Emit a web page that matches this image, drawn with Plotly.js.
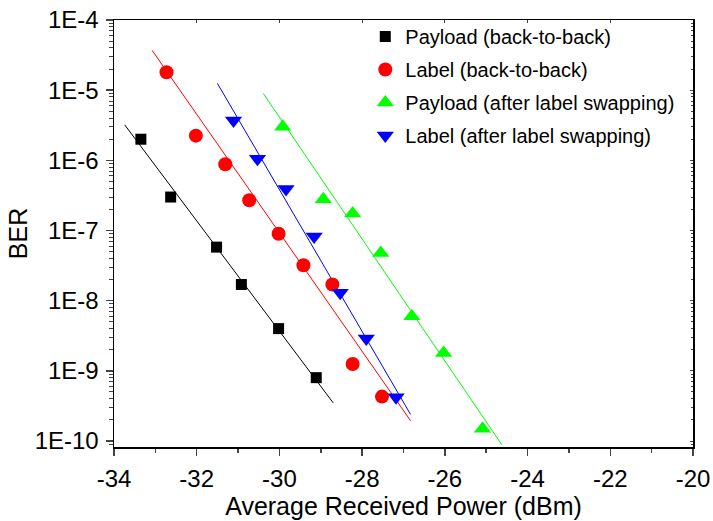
<!DOCTYPE html>
<html>
<head>
<meta charset="utf-8">
<script src="https://cdn.plot.ly/plotly-3.0.1.min.js"></script>
<style>html,body{margin:0;padding:0;background:#fff;}#chart{width:713px;height:521px;}</style>
</head>
<body>
<div id="chart"></div>
<script>
const payloadB2B_x = [-33.35, -32.63, -31.52, -30.92, -30.02, -29.11];
const payloadB2B_y = [2.0e-6, 3.0e-7, 5.8e-8, 1.7e-8, 4.0e-9, 8.0e-10];
const labelB2B_x = [-32.73, -32.02, -31.31, -30.73, -30.02, -29.42, -28.72, -28.23, -27.52];
const labelB2B_y = [1.8e-5, 2.25e-6, 8.8e-7, 2.7e-7, 9.0e-8, 3.2e-8, 1.7e-8, 1.25e-9, 4.3e-10];
const payloadLS_x = [-29.92, -28.94, -28.23, -27.55, -26.80, -26.03, -25.09];
const payloadLS_y = [3.0e-6, 2.8e-7, 1.75e-7, 4.8e-8, 6.0e-9, 1.8e-9, 1.5e-10];
const labelLS_x = [-31.11, -30.53, -29.84, -29.16, -28.53, -27.90, -27.18];
const labelLS_y = [3.7e-6, 1.05e-6, 3.9e-7, 8.2e-8, 1.3e-8, 2.9e-9, 4.2e-10];

// Linear-fit line endpoints
const fitPayloadB2B_x = [-33.74, -28.70];
const fitPayloadB2B_y = [3.2e-6, 3.5e-10];
const fitLabelB2B_x = [-33.08, -26.83];
const fitLabelB2B_y = [3.7e-5, 1.95e-10];
const fitPayloadLS_x = [-30.39, -24.62];
const fitPayloadLS_y = [9.0e-6, 8.8e-11];
const fitLabelLS_x = [-31.50, -26.83];
const fitLabelLS_y = [1.25e-5, 2.4e-10];

const seriesNames = ['Payload (back-to-back)', 'Label (back-to-back)', 'Payload (after label swapping)', 'Label (after label swapping)'];
const yTickVals = [1e-10, 1e-9, 1e-8, 1e-7, 1e-6, 1e-5, 1e-4];
const yTickText = ['1E-10', '1E-9', '1E-8', '1E-7', '1E-6', '1E-5', '1E-4'];
const xTickVals = [-34, -32, -30, -28, -26, -24, -22, -20];
const xTickText = ['-34', '-32', '-30', '-28', '-26', '-24', '-22', '-20'];

const minorY = [];
for (let e = -11; e <= -4; e++) for (let m = 2; m <= 9; m++) minorY.push(m * Math.pow(10, e));

function fit(x, y, c) {
  return {x: x, y: y, mode: 'lines', line: {color: c, width: 1}, showlegend: false, hoverinfo: 'skip'};
}
function pts(x, y, name, c, sym, sz, g) {
  return {x: x, y: y, mode: 'markers', name: name, legendgroup: g,
    marker: {color: c, symbol: sym, size: sz, line: {width: 0}}};
}

const traces = [
  fit(fitPayloadB2B_x, fitPayloadB2B_y, '#000000'),
  fit(fitLabelB2B_x, fitLabelB2B_y, '#ff0000'),
  fit(fitPayloadLS_x, fitPayloadLS_y, '#00ff00'),
  fit(fitLabelLS_x, fitLabelLS_y, '#0000ff'),
  pts(payloadB2B_x, payloadB2B_y, seriesNames[0], '#000000', 'square', 11, 'a'),
  pts(labelB2B_x, labelB2B_y, seriesNames[1], '#ff0000', 'circle', 14, 'b'),
  pts(payloadLS_x, payloadLS_y, seriesNames[2], '#00ff00', 'triangle-up', 15, 'c'),
  pts(labelLS_x, labelLS_y, seriesNames[3], '#0000ff', 'triangle-down', 15, 'd'),
  {x: [], y: [], xaxis: 'x2', yaxis: 'y2', showlegend: false, mode: 'markers'}
];

const font = 'Liberation Sans, Arial, sans-serif';
const layout = {
  width: 713, height: 521,
  margin: {l: 114, r: 20, t: 20, b: 74},
  paper_bgcolor: '#ffffff', plot_bgcolor: '#ffffff',
  font: {family: font, color: '#000000'},
  showlegend: true,
  legend: {x: 0.434, y: 1.007, xanchor: 'left', yanchor: 'top', bgcolor: 'rgba(0,0,0,0)',
    font: {size: 20, family: font}, traceorder: 'grouped', tracegroupgap: 4},
  xaxis: {range: [-34, -20], tickvals: xTickVals, ticktext: xTickText, ticks: 'outside', ticklen: 7, tickwidth: 1.5,
    showline: true, linewidth: 1.5, linecolor: '#000', showgrid: false, zeroline: false,
    tickfont: {size: 24, family: font}, ticklabelstandoff: 3, ticklabeloverflow: 'allow',
    minor: {dtick: 1, ticks: 'outside', ticklen: 4, tickwidth: 1.5, showgrid: false},
    title: {text: 'Average Received Power (dBm)', font: {size: 25, family: font}, standoff: 5}},
  yaxis: {type: 'log', range: [-10.085, -4], tickvals: yTickVals, ticktext: yTickText,
    ticks: 'outside', ticklen: 7, tickwidth: 1.5, showline: true, linewidth: 1.5, linecolor: '#000',
    showgrid: false, zeroline: false, tickfont: {size: 24, family: font}, ticklabelstandoff: 2,
    minor: {tickvals: minorY, ticks: 'outside', ticklen: 4, tickwidth: 1, showgrid: false},
    title: {text: 'BER', font: {size: 25, family: font}, standoff: 0}},
  xaxis2: {overlaying: 'x', side: 'top', anchor: 'y2', range: [-34, -20], tickvals: xTickVals,
    ticks: 'inside', ticklen: 3, showticklabels: false, showline: true, linewidth: 1.5,
    linecolor: '#000', showgrid: false, zeroline: false},
  yaxis2: {overlaying: 'y', side: 'right', anchor: 'x2', type: 'log', range: [-10.085, -4],
    tickvals: yTickVals, ticks: 'inside', ticklen: 3, showticklabels: false, showline: true,
    linewidth: 1.5, linecolor: '#000', showgrid: false, zeroline: false,
    minor: {tickvals: minorY, ticks: 'inside', ticklen: 2, showgrid: false}}
};

Plotly.newPlot('chart', traces, layout, {displayModeBar: false, staticPlot: true});
</script>
</body>
</html>
